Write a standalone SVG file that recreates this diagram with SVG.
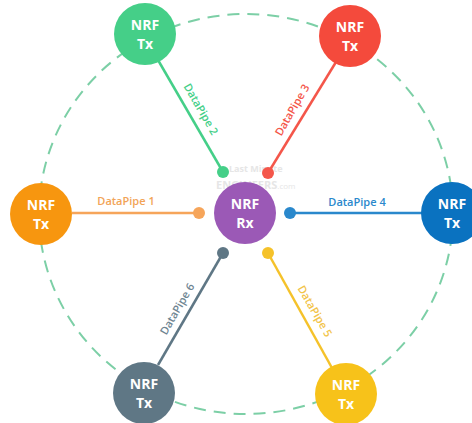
<svg xmlns="http://www.w3.org/2000/svg" width="472" height="423" viewBox="0 0 472 423">
<style>
.node text{font-family:"Open Sans","Liberation Sans",sans-serif;font-weight:700;font-size:14px;fill:#fff;text-anchor:middle}
.lbl{font-family:"Open Sans","Liberation Sans",sans-serif;font-weight:600;font-size:11px;text-anchor:middle}
.pipe{stroke-width:2.5;fill:none}
.wm{font-family:"Open Sans","Liberation Sans",sans-serif;fill:#e6e6e6;font-weight:700}
</style>
<rect width="472" height="423" fill="#fff"/>
<g id="watermark">
<text class="wm" x="229" y="172" font-size="9" font-weight="400">Last Minute</text>
<text class="wm" x="216" y="189" font-size="11">ENGINEERS<tspan font-size="8" font-weight="400">.com</tspan></text>
</g>
<ellipse id="ring" cx="246" cy="214" rx="207" ry="200" fill="none" stroke="#7ccfa6" stroke-width="2" stroke-dasharray="12 8"/>
<g id="connectors">
<g id="pipe1"><line class="pipe" x1="72" y1="213" x2="199" y2="213" stroke="#f6a55a"/><circle cx="199" cy="213" r="6" fill="#f6a55a"/><text class="lbl" x="126" y="205" fill="#f2a457">DataPipe 1</text></g>
<g id="pipe4"><line class="pipe" x1="290" y1="213" x2="422" y2="213" stroke="#2a88cc"/><circle cx="290" cy="213" r="6" fill="#2a88cc"/><text class="lbl" x="357" y="206" fill="#2a88cc">DataPipe 4</text></g>
<g id="pipe2"><line class="pipe" x1="158" y1="60" x2="223" y2="172" stroke="#45cf88"/><circle cx="223" cy="172" r="6" fill="#45cf88"/><text class="lbl" transform="translate(201,109) rotate(60)" y="4" fill="#45cf88">DataPipe 2</text></g>
<g id="pipe3"><line class="pipe" x1="336" y1="62" x2="268" y2="173" stroke="#f4564a"/><circle cx="268" cy="173" r="6" fill="#f4564a"/><text class="lbl" transform="translate(292,110) rotate(-60)" y="4" fill="#f4564a">DataPipe 3</text></g>
<g id="pipe6"><line class="pipe" x1="223" y1="253" x2="158" y2="365" stroke="#5f7785"/><circle cx="223" cy="253" r="6" fill="#5f7785"/><text class="lbl" transform="translate(177,309) rotate(-60)" y="4" fill="#6f8592">DataPipe 6</text></g>
<g id="pipe5"><line class="pipe" x1="268" y1="253" x2="332" y2="368" stroke="#f5c22a"/><circle cx="268" cy="253" r="6" fill="#f5c22a"/><text class="lbl" transform="translate(315,311) rotate(60)" y="4" fill="#f2c44a">DataPipe 5</text></g>
</g>
<g id="rx" class="node"><circle cx="245" cy="213" r="31" fill="#9b59b6"/><text x="245" y="209">NRF</text><text x="245" y="228">Rx</text></g>
<g id="tx1" class="node"><circle cx="41" cy="214" r="31" fill="#f7960f"/><text x="41" y="210">NRF</text><text x="41" y="229">Tx</text></g>
<g id="tx2" class="node"><circle cx="145" cy="34" r="31" fill="#45cf88"/><text x="145" y="30">NRF</text><text x="145" y="49">Tx</text></g>
<g id="tx3" class="node"><circle cx="350" cy="36" r="31" fill="#f44a3c"/><text x="350" y="32">NRF</text><text x="350" y="51">Tx</text></g>
<g id="tx4" class="node"><circle cx="452" cy="213" r="31" fill="#0a72c0"/><text x="452" y="209">NRF</text><text x="452" y="228">Tx</text></g>
<g id="tx5" class="node"><circle cx="346" cy="394" r="31" fill="#f7c21a"/><text x="346" y="390">NRF</text><text x="346" y="409">Tx</text></g>
<g id="tx6" class="node"><circle cx="144" cy="393" r="31" fill="#5f7785"/><text x="144" y="389">NRF</text><text x="144" y="408">Tx</text></g>
</svg>
